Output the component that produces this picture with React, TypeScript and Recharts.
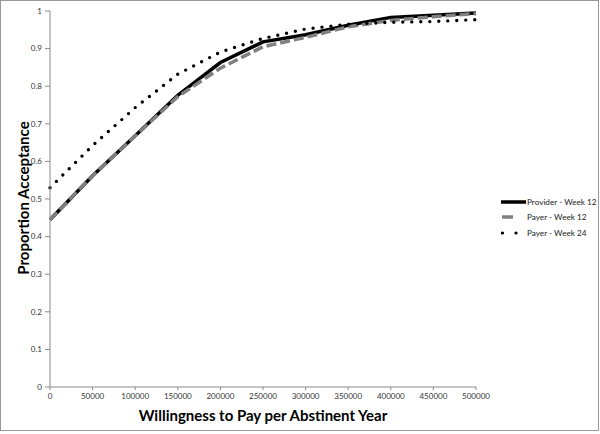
import { LineChart, Line, XAxis, YAxis } from 'recharts';

const wtp = [0, 50000, 100000, 150000, 200000, 250000, 300000, 350000, 400000, 450000, 500000];
const providerWeek12 = [0.445, 0.562, 0.668, 0.776, 0.863, 0.918, 0.937, 0.962, 0.983, 0.989, 0.995];
const payerWeek12 = [0.445, 0.562, 0.668, 0.772, 0.848, 0.905, 0.93, 0.958, 0.975, 0.985, 0.993];
const payerWeek24 = [0.53, 0.642, 0.743, 0.832, 0.891, 0.927, 0.952, 0.965, 0.97, 0.972, 0.977];

const xTicks = [0, 50000, 100000, 150000, 200000, 250000, 300000, 350000, 400000, 450000, 500000];
const yTicks = [0, 0.1, 0.2, 0.3, 0.4, 0.5, 0.6, 0.7, 0.8, 0.9, 1];

const data = wtp.map((x, i) => ({
  x,
  provider12: providerWeek12[i],
  payer12: payerWeek12[i],
  payer24: payerWeek24[i],
}));

const FONT = 'Lato, "Open Sans", sans-serif';
const AXIS = '#8a8a8a';

function ChartLegend() {
  const rows = [
    { name: 'Provider - Week 12', kind: 'solid' },
    { name: 'Payer - Week 12', kind: 'dash' },
    { name: 'Payer - Week 24', kind: 'dot' },
  ];
  return (
    <div
      style={{
        position: 'absolute',
        left: 501,
        top: 194,
        width: 94,
        fontFamily: FONT,
        fontSize: 8.2,
        color: '#222',
        whiteSpace: 'nowrap',
      }}
    >
      {rows.map((r) => (
        <div key={r.name} style={{ display: 'flex', alignItems: 'center', height: 15.5 }}>
          <svg width={25} height={8} style={{ marginRight: 1, flex: 'none' }}>
            {r.kind === 'solid' && <line x1={0} y1={4} x2={25} y2={4} stroke="#000" strokeWidth={3.5} />}
            {r.kind === 'dash' && <line x1={1} y1={4} x2={12} y2={4} stroke="#808080" strokeWidth={3.5} />}
            {r.kind === 'dot' && (
              <>
                <circle cx={1.5} cy={4} r={1.6} fill="#000" />
                <circle cx={15} cy={4} r={1.6} fill="#000" />
              </>
            )}
          </svg>
          <span>{r.name}</span>
        </div>
      ))}
    </div>
  );
}

export default function App() {
  return (
    <div style={{ position: 'absolute', left: 0, top: 0, width: 600, height: 434, background: '#fff' }}>
      <div
        style={{
          position: 'absolute',
          left: 0,
          top: 0,
          width: 599,
          height: 431,
          boxSizing: 'border-box',
          border: '1.5px solid #999',
        }}
      />
      <LineChart
        width={600}
        height={434}
        data={data}
        margin={{ top: 11, right: 124, bottom: 27, left: 10 }}
      >
        <XAxis
          dataKey="x"
          type="number"
          domain={[0, 500000]}
          ticks={xTicks}
          height={20}
          stroke={AXIS}
          tickSize={3}
          tickMargin={3}
          tick={{ fontFamily: FONT, fontSize: 8, fill: '#333' }}
        />
        <YAxis
          type="number"
          domain={[0, 1]}
          ticks={yTicks}
          width={40}
          stroke={AXIS}
          tickSize={5}
          tickMargin={3}
          tick={{ fontFamily: FONT, fontSize: 8, fill: '#333' }}
        />
        <Line
          dataKey="provider12"
          name="Provider - Week 12"
          stroke="#000"
          strokeWidth={3.5}
          dot={false}
          type="linear"
          isAnimationActive={false}
        />
        <Line
          dataKey="payer12"
          name="Payer - Week 12"
          stroke="#808080"
          strokeWidth={3.5}
          strokeDasharray="10 4"
          dot={false}
          type="linear"
          isAnimationActive={false}
        />
        <Line
          dataKey="payer24"
          name="Payer - Week 24"
          stroke="#000"
          strokeWidth={3.4}
          strokeDasharray="0 9"
          strokeLinecap="round"
          dot={false}
          type="linear"
          isAnimationActive={false}
        />
      </LineChart>
      <ChartLegend />
      <div
        style={{
          position: 'absolute',
          left: 263,
          top: 415,
          transform: 'translate(-50%, -50%)',
          whiteSpace: 'nowrap',
          fontFamily: FONT,
          fontWeight: 700,
          fontSize: 15,
          color: '#000',
        }}
      >
        Willingness to Pay per Abstinent Year
      </div>
      <div
        style={{
          position: 'absolute',
          left: 23,
          top: 198,
          transform: 'translate(-50%, -50%) rotate(-90deg)',
          whiteSpace: 'nowrap',
          fontFamily: FONT,
          fontWeight: 700,
          fontSize: 15,
          color: '#000',
        }}
      >
        Proportion Acceptance
      </div>
    </div>
  );
}
